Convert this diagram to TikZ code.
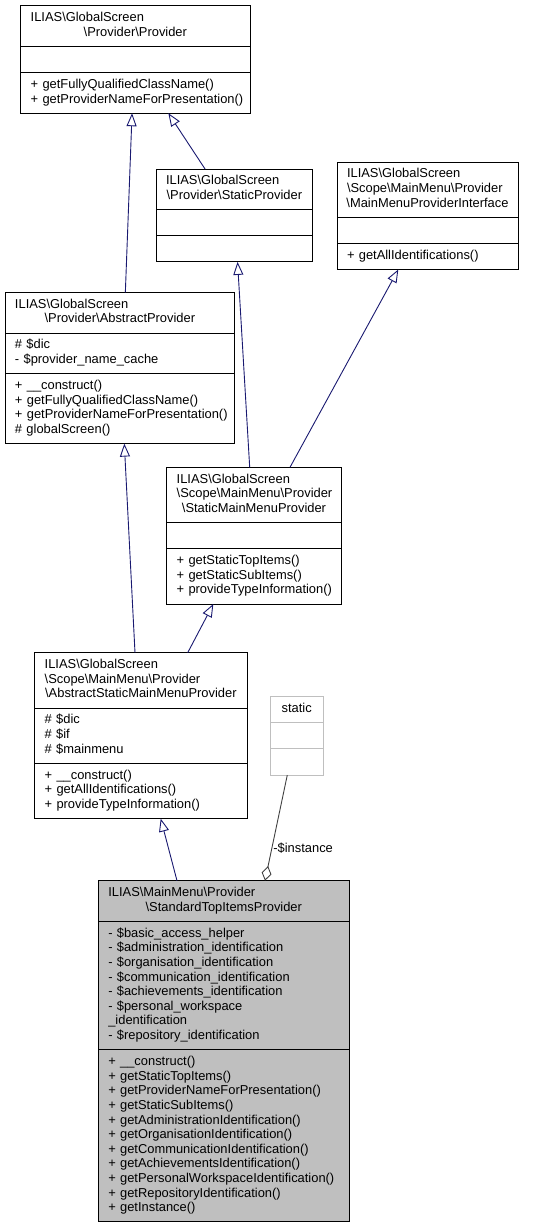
\documentclass[tikz,border=0pt]{standalone}
\usepackage{fontspec}
\setmainfont{Liberation Sans}
\usetikzlibrary{shapes.multipart,arrows.meta}
\definecolor{edgeblue}{HTML}{191970}
\definecolor{agggray}{HTML}{404040}
\definecolor{boxgray}{HTML}{BFBFBF}
\newcommand\bs{\textbackslash}
\newcommand\ctr[1]{\leavevmode\hbox to\linewidth{\hss#1\hss}}
\newcommand\clsfont{\fontsize{12.9}{14.6}\selectfont\hyphenpenalty=10000\exhyphenpenalty=10000\hbadness=10000\hfuzz=20pt}
\begin{document}
\begin{tikzpicture}[x=1pt,y=-1pt]
	\tikzstyle{cls}=[draw,rectangle split,rectangle split parts=3,anchor=north west,inner xsep=10pt,inner ysep=5.3pt,outer sep=0pt,align=left,font=\clsfont,line width=0.9pt]
	\tikzstyle{inh}=[draw=edgeblue,line width=0.9pt,-{Triangle[open,length=13pt,width=10pt]}]
	\tikzstyle{agg}=[draw=agggray,line width=0.9pt,-{Diamond[open,length=15pt,width=10pt]}]
	\useasboundingbox (0,0) rectangle (535,1227);
	% classes
	\node[cls,text width=209.3pt] (prov) at (20.7,5.7) {\strut ILIAS\bs GlobalScreen\\ \ctr{\bs Provider\bs Provider}\strut
		\nodepart{two}\strut
		\nodepart{three}\strut+~getFullyQualifiedClassName()\\ +~getProviderNameForPresentation()\strut};
	\node[cls,text width=136.7pt] (statprov) at (156,169) {\strut ILIAS\bs GlobalScreen\\ \ctr{\bs Provider\bs StaticProvider}\strut
		\nodepart{two}\strut
		\nodepart{three}\strut};
	\node[cls,text width=161pt] (mmpi) at (337,162) {\strut ILIAS\bs GlobalScreen\\ \bs Scope\bs MainMenu\bs Provider\\ \ctr{\bs MainMenuProviderInterface}\strut
		\nodepart{two}\strut
		\nodepart{three}\strut+~getAllIdentifications()\strut};
	\node[cls,text width=209.7pt] (absprov) at (5,292.3) {\strut ILIAS\bs GlobalScreen\\ \ctr{\bs Provider\bs AbstractProvider}\strut
		\nodepart{two}\strut\#~\$dic\\ -~\$provider\_name\_cache\strut
		\nodepart{three}\strut+~\_\_construct()\\ +~getFullyQualifiedClassName()\\ +~getProviderNameForPresentation()\\ \#~globalScreen()\strut};
	\node[cls,text width=154.6pt] (smmp) at (166.7,467.3) {\strut ILIAS\bs GlobalScreen\\ \bs Scope\bs MainMenu\bs Provider\\ \ctr{\bs StaticMainMenuProvider}\strut
		\nodepart{two}\strut
		\nodepart{three}\strut+~getStaticTopItems()\\ +~getStaticSubItems()\\ +~provideTypeInformation()\strut};
	\node[cls,text width=192.3pt] (asmmp) at (34.7,652.7) {\strut ILIAS\bs GlobalScreen\\ \bs Scope\bs MainMenu\bs Provider\\ \ctr{\bs AbstractStaticMainMenuProvider}\strut
		\nodepart{two}\strut\#~\$dic\\ \#~\$if\\ \#~\$mainmenu\strut
		\nodepart{three}\strut+~\_\_construct()\\ +~getAllIdentifications()\\ +~provideTypeInformation()\strut};
	\node[cls,draw=boxgray,align=center,text width=33.3pt] (static) at (270,696.7) {\strut static\strut
		\nodepart{two}\strut
		\nodepart{three}\strut};
	\node[cls,fill=boxgray,text width=231pt] (stip) at (98.3,880.7) {\strut ILIAS\bs MainMenu\bs Provider\\ \ctr{\bs StandardTopItemsProvider}\strut
		\nodepart{two}\strut-~\$basic\_access\_helper\\ -~\$administration\_identification\\ -~\$organisation\_identification\\ -~\$communication\_identification\\ -~\$achievements\_identification\\ -~\$personal\_workspace\\ \_identification\\ -~\$repository\_identification\strut
		\nodepart{three}\strut+~\_\_construct()\\ +~getStaticTopItems()\\ +~getProviderNameForPresentation()\\ +~getStaticSubItems()\\ +~getAdministrationIdentification()\\ +~getOrganisationIdentification()\\ +~getCommunicationIdentification()\\ +~getAchievementsIdentification()\\ +~getPersonalWorkspaceIdentification()\\ +~getRepositoryIdentification()\\ +~getInstance()\strut};
	% inheritance
	\draw[inh] ([xshift=5.5pt]absprov.north) -- ([xshift=-3.3pt]prov.south);
	\draw[inh] ([xshift=-29.3pt]statprov.north) -- ([xshift=33pt]prov.south);
	\draw[inh] ([xshift=-4.3pt]smmp.north) -- ([xshift=3.2pt]statprov.south);
	\draw[inh] ([xshift=36pt]smmp.north) -- ([xshift=-29.2pt]mmpi.south);
	\draw[inh] ([xshift=-5.85pt]asmmp.north) -- ([xshift=4.45pt]absprov.south);
	\draw[inh] ([xshift=46.85pt]asmmp.north) -- ([xshift=-40.7pt]smmp.south);
	\draw[inh] ([xshift=-46.8pt]stip.north) -- ([xshift=19.85pt]asmmp.south);
	% aggregation
	\draw[agg] ([xshift=-9.35pt]static.south) -- ([xshift=41.2pt]stip.north) node[pos=0.69,right,inner sep=1pt,font=\clsfont] (inst) {-\$instance};
\end{tikzpicture}
\end{document}
